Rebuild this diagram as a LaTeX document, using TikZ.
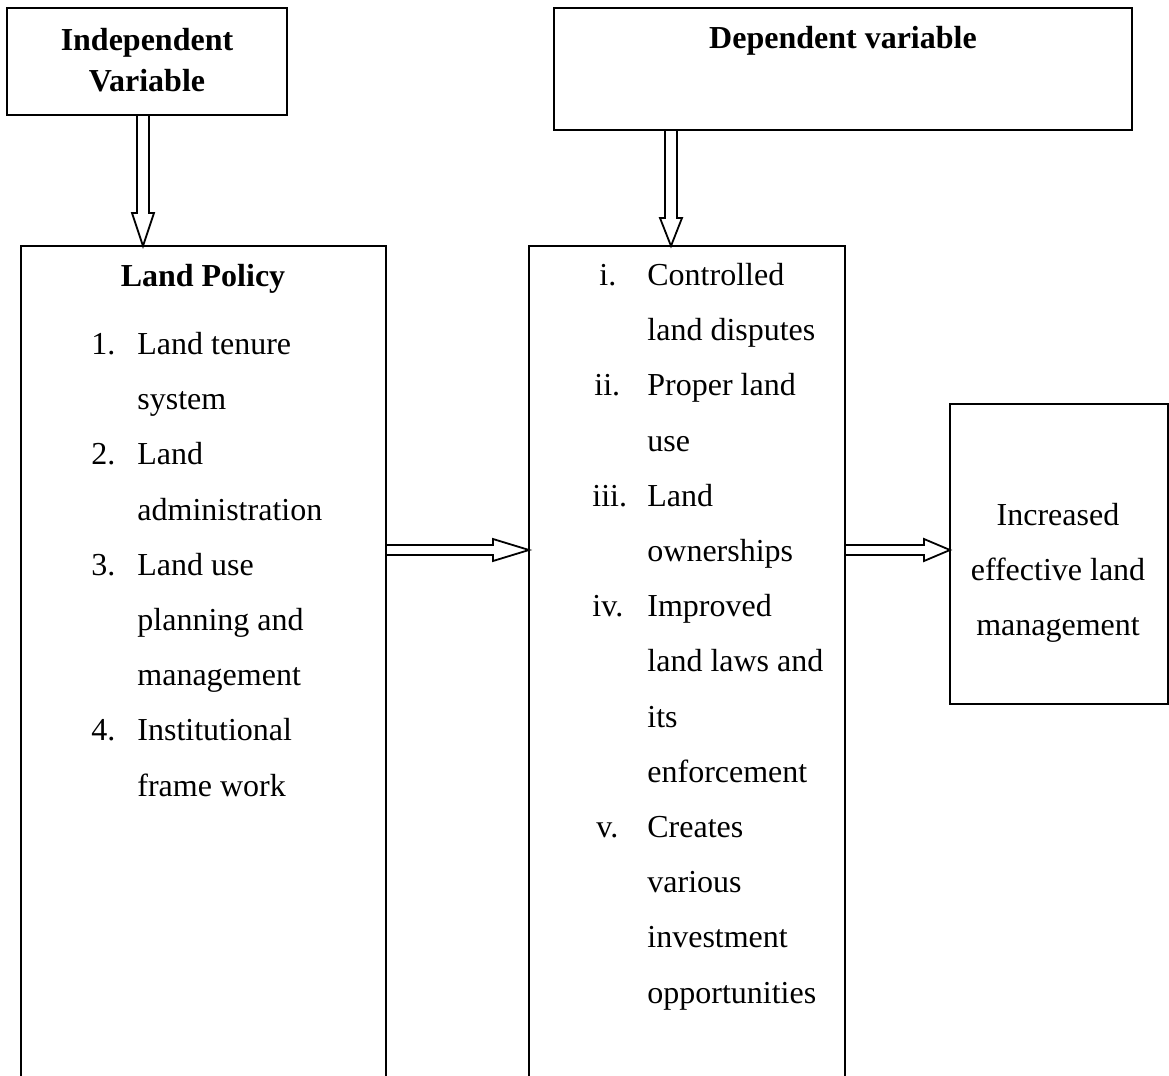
\documentclass[tikz,border=0pt]{standalone}
\usepackage{fontspec}
\setmainfont{Liberation Serif}
\usetikzlibrary{calc}
\newcommand\tline[4]{\node[txt, anchor=base west] (#1) at (#2,#3) {#4};}
\newcommand\ctline[4]{\node[txt, anchor=base] (#1) at (#2,#3) {#4};}
% vertical block arrow: x, from node, to node, head length
\newcommand\blockdown[4]{\draw[barrow] let \p1=(#2.south), \p2=(#3.north), \p3=(#1,0) in
  (\x3-3pt,\y1) -- (\x3-3pt,\y2+#4) -- (\x3-5.5pt,\y2+#4) -- (\x3,\y2) -- (\x3+5.5pt,\y2+#4) -- (\x3+3pt,\y2+#4) -- (\x3+3pt,\y1);}
% horizontal block arrow: y, from node, to node, head length
\newcommand\blockright[4]{\draw[barrow] let \p1=(#2.east), \p2=(#3.west), \p3=(0,#1) in
  (\x1,\y3+2.5pt) -- (\x2-#4,\y3+2.5pt) -- (\x2-#4,\y3+5.5pt) -- (\x2,\y3) -- (\x2-#4,\y3-5.5pt) -- (\x2-#4,\y3-2.5pt) -- (\x1,\y3-2.5pt);}
\begin{document}
\begin{tikzpicture}[x=0.5pt,y=-0.5pt,
  box/.style={draw, line width=1.1pt, rectangle, inner sep=0pt, outer sep=0pt},
  txt/.style={inner sep=0pt, font=\fontsize{16pt}{27.6pt}\selectfont},
  btxt/.style={txt, font=\fontsize{16pt}{27.6pt}\selectfont\bfseries},
  barrow/.style={draw, line width=0.9pt, line join=miter}]
\useasboundingbox (0,0) rectangle (1169,1076);
\clip (0,0) rectangle (1169,1076);
% boxes
\node[box, minimum width=140pt, minimum height=53.5pt] (iv) at (147,61.5) {};
\node[box, minimum width=289pt, minimum height=61pt] (dv) at (843,69) {};
\node[box, minimum width=182.5pt, minimum height=437pt] (lp) at (203.5,683) {};
\node[box, minimum width=158pt, minimum height=437pt] (mid) at (687,683) {};
\node[box, minimum width=109pt, minimum height=150pt] (out) at (1059,554) {};
% headings
\node[btxt, anchor=base] (ivt1) at (147,50) {Independent};
\node[btxt, anchor=base] (ivt2) at (147,91) {Variable};
\node[btxt, anchor=base] (dvt) at (843,48) {Dependent variable};
\node[btxt, anchor=base] (lpt) at (203,286) {Land Policy};
% land policy list
\tline{l1n}{91}{354}{1.}
\tline{l1a}{137}{354}{Land tenure}
\tline{l1b}{137}{409}{system}
\tline{l2n}{91}{464}{2.}
\tline{l2a}{137}{464}{Land}
\tline{l2b}{137}{520}{administration}
\tline{l3n}{91}{575}{3.}
\tline{l3a}{137}{575}{Land use}
\tline{l3b}{137}{630}{planning and}
\tline{l3c}{137}{685}{management}
\tline{l4n}{91}{740}{4.}
\tline{l4a}{137}{740}{Institutional}
\tline{l4b}{137}{796}{frame work}
% dependent list
\tline{m1n}{599}{285}{i.}
\tline{m1a}{647}{285}{Controlled}
\tline{m1b}{647}{340}{land disputes}
\tline{m2n}{594}{395}{ii.}
\tline{m2a}{647}{395}{Proper land}
\tline{m2b}{647}{451}{use}
\tline{m3n}{592}{506}{iii.}
\tline{m3a}{647}{506}{Land}
\tline{m3b}{647}{561}{ownerships}
\tline{m4n}{592}{616}{iv.}
\tline{m4a}{647}{616}{Improved}
\tline{m4b}{647}{671}{land laws and}
\tline{m4c}{647}{727}{its}
\tline{m4d}{647}{782}{enforcement}
\tline{m5n}{596}{837}{v.}
\tline{m5a}{647}{837}{Creates}
\tline{m5b}{647}{892}{various}
\tline{m5c}{647}{947}{investment}
\tline{m5d}{647}{1003}{opportunities}
% outcome
\ctline{o1}{1058}{525}{Increased}
\ctline{o2}{1058}{580}{effective land}
\ctline{o3}{1058}{635}{management}
% arrows
\blockdown{143}{iv}{lp}{16.5pt}
\blockdown{671}{dv}{mid}{14pt}
\blockright{550}{lp}{mid}{18pt}
\blockright{550}{mid}{out}{13pt}
\end{tikzpicture}
\end{document}
